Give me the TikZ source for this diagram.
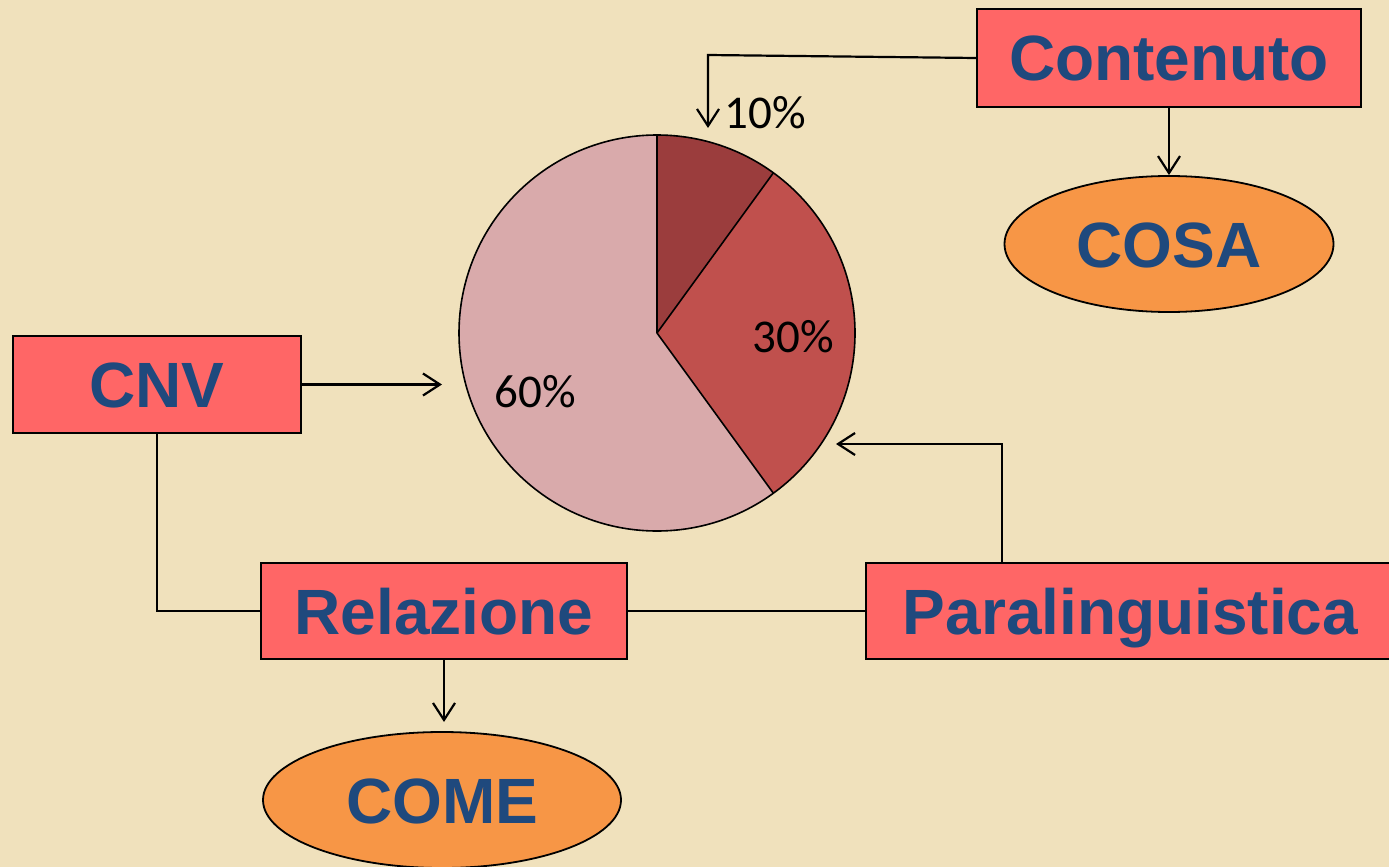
\documentclass[tikz,border=0pt]{standalone}
\usepackage{fontspec}
\setmainfont{Liberation Sans}
\newfontfamily\piefont{Carlito}
\usetikzlibrary{arrows.meta,shapes.geometric}
\definecolor{bgc}{RGB}{240,225,188}
\definecolor{boxc}{RGB}{255,102,102}
\definecolor{ellc}{RGB}{247,150,70}
\definecolor{txtc}{RGB}{31,73,125}
\definecolor{pa}{RGB}{155,61,61}
\definecolor{pb}{RGB}{192,80,77}
\definecolor{pcl}{RGB}{217,170,171}
\tikzset{
  lbl/.style={font=\bfseries\fontsize{64}{70}\selectfont, text=txtc, inner sep=0pt, text height=46pt, text depth=0pt},
  redbox/.style={lbl, draw=black, line width=1.8pt, fill=boxc, rectangle},
  orange/.style={lbl, draw=black, line width=1.8pt, fill=ellc, ellipse},
  conn/.style={draw=black, line width=2.2pt},
  arr/.style={conn, -{Straight Barb[length=17pt,width=22pt,line width=2.2pt]}},
  pct/.style={font=\piefont\fontsize{47}{50}\selectfont, inner sep=0pt, anchor=base, text=black}
}
\begin{document}
\begin{tikzpicture}[x=1pt,y=1pt]
\useasboundingbox (0,0) rectangle (1389,-867);
\fill[bgc] (0,0) rectangle (1389,-867);

% pie
\coordinate (pc) at (657,-333);
\fill[pa] (pc) -- ++(90:198pt) arc[start angle=90,end angle=54,radius=198pt] -- cycle;
\fill[pb] (pc) -- ++(54:198pt) arc[start angle=54,end angle=-54,radius=198pt] -- cycle;
\fill[pcl] (pc) -- ++(-54:198pt) arc[start angle=-54,end angle=-270,radius=198pt] -- cycle;
\draw[line width=1.6pt] (pc) circle[radius=198pt];
\draw[line width=1.6pt] (pc) -- ++(90:198pt) (pc) -- ++(54:198pt) (pc) -- ++(-54:198pt);
\node[pct] (p10) at (765,-128) {10\%};
\node[pct] (p30) at (793.5,-352) {30\%};
\node[pct] (p60) at (535,-407) {60\%};

% nodes
\node[redbox, minimum width=384pt, minimum height=98pt] (cont) at (1169,-58) {Contenuto};
\node[orange, minimum width=329pt, minimum height=136pt] (cosa) at (1169,-244) {COSA};
\node[redbox, minimum width=288pt, minimum height=97pt] (cnv) at (157,-384.5) {CNV};
\node[redbox, minimum width=366pt, minimum height=96pt] (rel) at (444,-611) {Relazione};
\node[redbox, minimum width=529pt, minimum height=96pt] (par) at (1130.5,-611) {Paralinguistica};
\node[orange, minimum width=358pt, minimum height=136pt] (come) at (442,-800) {COME};

% connector points
\coordinate (k10) at (708,-55);
\coordinate (e10) at (708,-128);
\coordinate (ecnv) at (442,-384.5);
\coordinate (kpar) at (1002,-444);
\coordinate (epar) at (836,-444);
\coordinate (ecome) at (444,-722);

\draw[arr] (cont.west) -- (k10) -- (e10);
\draw[arr] (cont.south) -- (cosa.north);
\draw[arr] (cnv.east) -- (ecnv);
\draw[conn] (cnv.south) |- (rel.west);
\draw[conn] (rel.east) -- (par.west);
\draw[arr] (kpar |- par.north) -- (kpar) -- (epar);
\draw[arr] (rel.south) -- (ecome);
\end{tikzpicture}
\end{document}
